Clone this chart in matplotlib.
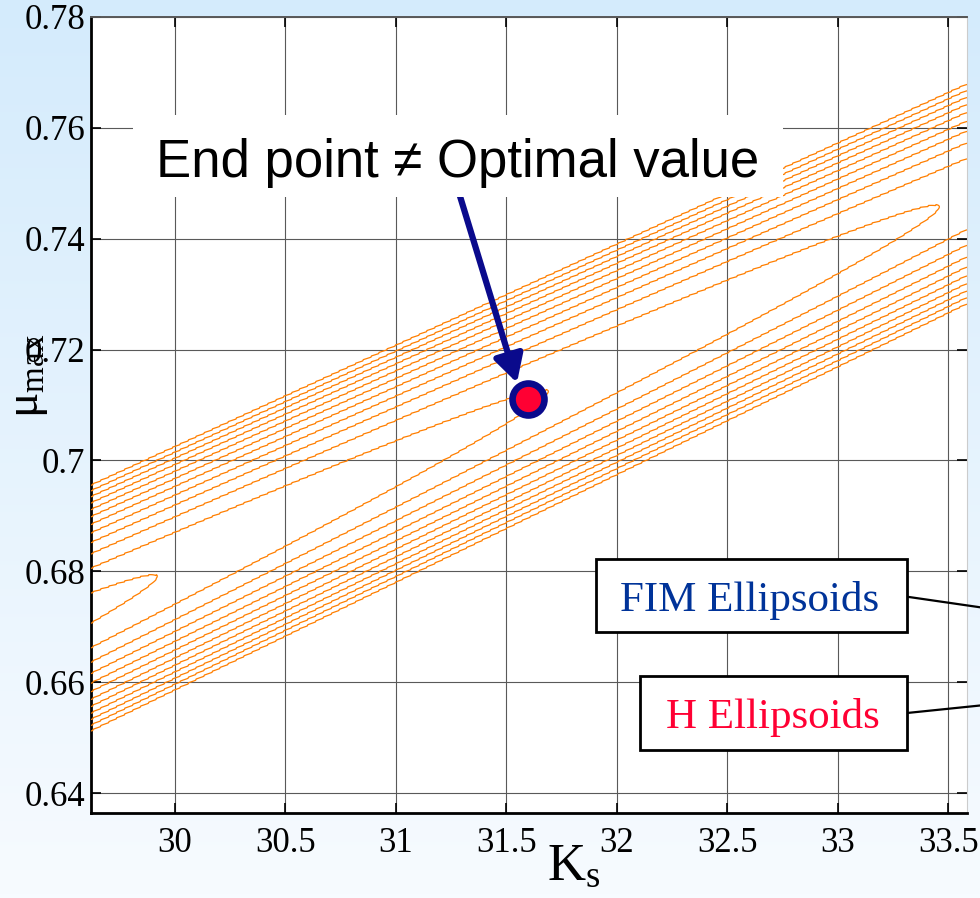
import numpy as np
import matplotlib
matplotlib.use("Agg")
import matplotlib.pyplot as plt
from matplotlib.patches import Rectangle
from matplotlib.lines import Line2D

# ---- axis ticks and ranges ----
ks_ticks = [30, 30.5, 31, 31.5, 32, 32.5, 33, 33.5]
ks_labels = ["30", "30.5", "31", "31.5", "32", "32.5", "33", "33.5"]
mu_ticks = [0.64, 0.66, 0.68, 0.70, 0.72, 0.74, 0.76, 0.78]
mu_labels = ["0.64", "0.66", "0.68", "0.7", "0.72", "0.74", "0.76", "0.78"]
ks_range = (29.62, 33.585)
mu_range = (0.6364, 0.78)

# ---- cost surface: a long valley in the (Ks, mu_max) plane ----
valley_ks = [29.625, 33.58]        # Ks at the two ends of the valley floor
valley_mu = [0.6735, 0.7480]       # mu_max of the valley floor there
closing_ks = [29.92, 31.69, 33.46]  # Ks where contour levels 1, 2, 3 close
level_spacing = 0.44e-4            # squared half-width added per level
n_levels = 12
step_period = 0.036                # Ks step of the simulation grid
end_point = (31.597, 0.7111)

plt.rcParams["font.family"] = ["Liberation Serif", "DejaVu Serif"]
plt.rcParams["mathtext.fontset"] = "custom"
plt.rcParams["mathtext.rm"] = "Liberation Serif"
plt.rcParams["mathtext.it"] = "Liberation Serif:italic"

W, H = 980, 898
fig = plt.figure(figsize=(W / 100, H / 100), dpi=100)


def fx(x):
    return x / W


def fy(y):
    return 1 - y / H


# light blue slide background
bg = fig.add_axes([0, 0, 1, 1], zorder=-10)
top_c = np.array([212, 235, 252]) / 255
bot_c = np.array([247, 251, 255]) / 255
t = np.linspace(0, 1, 256)[:, None, None]
grad = top_c * (1 - t) + bot_c * t
grad = np.repeat(grad, 4, axis=1)
bg.imshow(grad, aspect="auto", extent=[0, 1, 0, 1])
bg.axis("off")

ax = fig.add_axes([fx(91), fy(813), (967 - 91) / W, (813 - 17) / H])
ax.set_facecolor("white")

# evaluate the surface
ks = np.linspace(ks_range[0], ks_range[1], 1500)
mu = np.linspace(mu_range[0], mu_range[1], 1000)
K, M = np.meshgrid(ks, mu)
slope = (valley_mu[1] - valley_mu[0]) / (valley_ks[1] - valley_ks[0])
rate = (len(closing_ks) - 1) / (closing_ks[-1] - closing_ks[0])
k_floor = np.floor(K / step_period) * step_period
k_step = k_floor + 0.7 * (K - k_floor) + 0.15 * step_period
center = valley_mu[0] + slope * (k_step - valley_ks[0])
F = (M - center) ** 2 / level_spacing + rate * (K - closing_ks[0]) + 1
levels = np.arange(1, n_levels + 1)
ax.contour(K, M, F, levels=levels, colors="#ff7f00", linewidths=0.9, zorder=3)

ax.set_xlim(*ks_range)
ax.set_ylim(*mu_range)
ax.set_xticks(ks_ticks)
ax.set_xticklabels(ks_labels)
ax.set_yticks(mu_ticks)
ax.set_yticklabels(mu_labels)
ax.set_axisbelow(True)
ax.grid(True, color="0.35", lw=0.8)
ax.tick_params(direction="in", length=7, width=1.2, top=True, right=True,
               labelsize=25, colors="black")
ax.tick_params(axis="x", pad=10)
ax.tick_params(axis="y", pad=4)
for side in ("left", "bottom"):
    ax.spines[side].set_linewidth(2)
    ax.spines[side].set_color("black")
ax.spines["top"].set_linewidth(1.4)
ax.spines["top"].set_color("0.35")
ax.spines["right"].set_linewidth(0.8)
ax.spines["right"].set_color("0.8")

fig.text(fx(574), fy(880), r"$\mathrm{K_s}$", fontsize=38, ha="center",
         va="baseline")
fig.text(fx(29), fy(376), r"$\mathrm{\mu_{max}}$", fontsize=34, rotation=90,
         ha="center", va="center")

# end point marker and arrow
ax.annotate("", xy=(31.548, 0.7140), xytext=(31.28, 0.7490),
            arrowprops=dict(arrowstyle="-|>,head_length=0.55,head_width=0.3",
                            lw=4.5, color="#0a0a8c", mutation_scale=30,
                            shrinkA=0, shrinkB=0),
            zorder=5)
ax.plot([end_point[0]], [end_point[1]], "o", ms=23, mew=4.8,
        mfc="#ff0033", mec="#0a0a8c", zorder=6)

# headline box
fig.patches.append(Rectangle((fx(133), fy(197)), (783 - 133) / W, (197 - 115) / H,
                             transform=fig.transFigure, facecolor="white",
                             edgecolor="none", zorder=10))
fig.text(fx(458), fy(177), "End point \u2260 Optimal value", fontsize=38,
         family=["Liberation Sans", "DejaVu Sans"], ha="center", va="baseline",
         zorder=11)

# callout boxes
for (x0, x1, y0, y1, label, color, tx, ty, line) in [
    (596, 907, 559, 632, "FIM Ellipsoids", "#003399", 750, 611,
     ((909, 597), (985, 608))),
    (640, 907, 676, 750, "H Ellipsoids", "#ff0033", 773, 728,
     ((907, 713), (985, 705))),
]:
    fig.patches.append(Rectangle((fx(x0), fy(y1)), (x1 - x0) / W, (y1 - y0) / H,
                                 transform=fig.transFigure, facecolor="white",
                                 edgecolor="black", lw=2, zorder=10))
    fig.text(fx(tx), fy(ty), label, color=color, fontsize=31, ha="center",
             va="baseline", zorder=11)
    (lx0, ly0), (lx1, ly1) = line
    fig.lines.append(Line2D([fx(lx0), fx(lx1)], [fy(ly0), fy(ly1)],
                            transform=fig.transFigure, color="black", lw=1.6,
                            zorder=10))

fig.savefig("out.png", dpi=100)
